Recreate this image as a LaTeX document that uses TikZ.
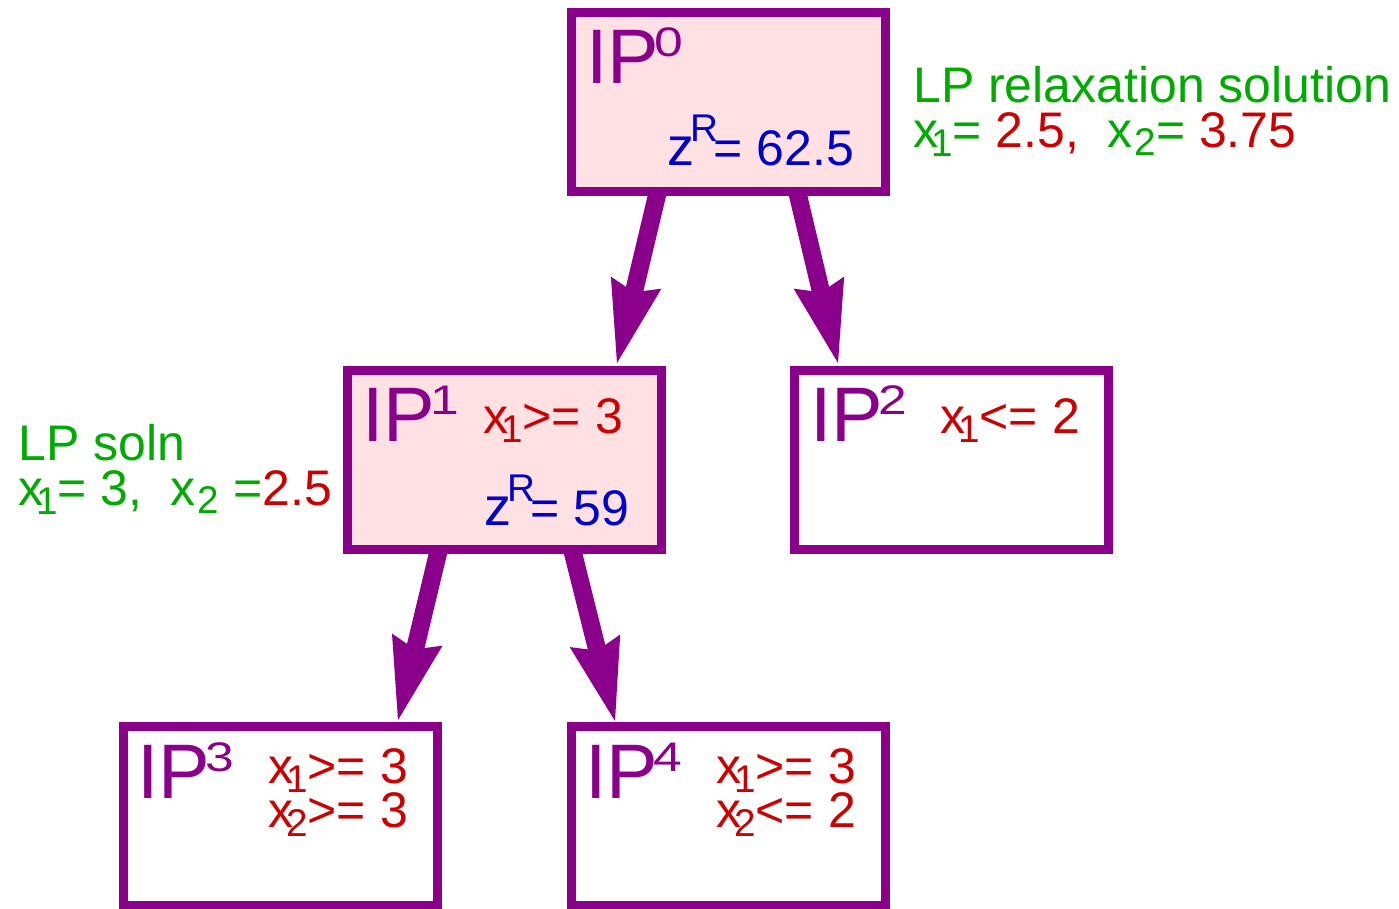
\documentclass[tikz,border=0pt]{standalone}
\usepackage{fontspec}
\setmainfont{Liberation Sans}
\usetikzlibrary{arrows.meta}
\definecolor{ipc}{HTML}{8B008B}
\definecolor{pinkf}{HTML}{FFE1E3}
\definecolor{gr}{HTML}{00AA00}
\definecolor{rd}{HTML}{CC0000}
\definecolor{bl}{HTML}{0000CC}
\newcommand{\sbs}[1]{\kern-0.14em\raisebox{-0.18em}{\fontsize{29}{29}\selectfont #1}}
\newcommand{\sbsb}[1]{\kern0.05em\raisebox{-0.16em}{\fontsize{29}{29}\selectfont #1}}
\newcommand{\ipsup}[1]{\kern-0.06em\raisebox{0.34em}{\scalebox{1.25}[1]{\fontsize{31}{31}\selectfont #1}}}
\newcommand{\zR}{\scalebox{1.08}{z}\kern-0.07em\raisebox{0.47em}{\fontsize{29}{29}\selectfont R}\kern-0.1em}
\begin{document}
\begin{tikzpicture}[x=0.75pt,y=-0.75pt,
  box/.style={draw=ipc, line width=6.75pt, minimum width=235.5pt, minimum height=134.25pt, inner sep=0pt},
  ip/.style={anchor=base west, inner sep=0pt, text=ipc, font=\fontsize{58}{58}\selectfont},
  txt/.style={anchor=base west, inner sep=0pt, font=\fontsize{37.5}{40}\selectfont},
  arr/.style={draw=ipc, fill=ipc, line width=13.5pt, -{Stealth[length=62pt,width=39pt,inset=7.5pt,line width=0pt]}}]
\useasboundingbox (0,0) rectangle (1399,908);
% arrow end points
\coordinate (s1) at (658,191); \coordinate (t1) at (617,363);
\coordinate (s2) at (797,191); \coordinate (t2) at (838,363);
\coordinate (s3) at (439,549); \coordinate (t3) at (398,720);
\coordinate (s4) at (572,549); \coordinate (t4) at (615,721);
\draw[arr] (s1) -- (t1);
\draw[arr] (s2) -- (t2);
\draw[arr] (s3) -- (t3);
\draw[arr] (s4) -- (t4);
% boxes
\node[box, fill=pinkf] (ip0) at (728,101.5) {};
\node[box, fill=pinkf] (ip1) at (504,459.5) {};
\node[box, fill=white] (ip2) at (951.5,459.5) {};
\node[box, fill=white] (ip3) at (280,815.5) {};
\node[box, fill=white] (ip4) at (728,815.5) {};
% IP0
\node[ip] (l0) at (586,83) {IP\ipsup{0}};
\node[txt,text=bl] (z0) at (667,165) {\zR= 62.5};
\node[txt,text=gr] (lp0) at (913,102) {LP relaxation solution};
\node[txt,text=gr] (lp0v) at (913,147) {x\sbs{1}= \textcolor{rd}{2.5,}\ \ x\sbsb{2}= \textcolor{rd}{3.75}};
% IP1
\node[ip] (l1) at (362,441) {IP\ipsup{1}};
\node[txt,text=rd] (c1) at (483,433) {x\sbs{1}>= 3};
\node[txt,text=bl] (z1) at (484,525) {\zR= 59};
\node[txt,text=gr] (lp1) at (18,460) {LP soln};
\node[txt,text=gr] (lp1v) at (18,505) {x\sbs{1}= 3,\ \ x\sbsb{2} =\textcolor{rd}{2.5}};
% IP2
\node[ip] (l2) at (810,441) {IP\ipsup{2}};
\node[txt,text=rd] (c2) at (940,433) {x\sbs{1}<= 2};
% IP3
\node[ip] (l3) at (137,798) {IP\ipsup{3}};
\node[txt,text=rd] (c3a) at (268,783) {x\sbs{1}>= 3};
\node[txt,text=rd] (c3b) at (268,827) {x\sbs{2}>= 3};
% IP4
\node[ip] (l4) at (585,798) {IP\ipsup{4}};
\node[txt,text=rd] (c4a) at (716,783) {x\sbs{1}>= 3};
\node[txt,text=rd] (c4b) at (716,827) {x\sbs{2}<= 2};
\end{tikzpicture}
\end{document}
